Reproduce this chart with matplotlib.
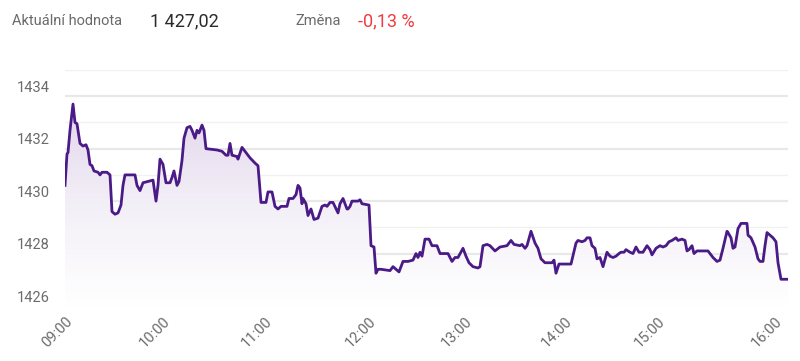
import matplotlib
matplotlib.use("Agg")
import matplotlib.pyplot as plt
import matplotlib.transforms as mtransforms
import numpy as np
from matplotlib.colors import LinearSegmentedColormap

plt.rcParams["font.family"] = ["Roboto", "DejaVu Sans"]

# session position (ordinal, one unit ~ one tick step) and index value
pos = [0, 2, 3, 5, 8, 10, 12, 15, 18, 21, 23, 25, 27, 29, 33, 35, 37, 42, 45,
       47, 50, 53, 56, 58, 60, 70, 72, 75, 78, 83, 88, 91, 93, 95, 98, 101,
       105, 107, 109, 112, 114, 117, 119, 122, 125, 127, 130, 132, 134, 137,
       139, 141, 152, 157, 161, 163, 165, 167, 172, 173, 177, 180, 183, 185,
       190, 193, 196, 201, 203, 207, 210, 213, 216, 222, 224, 228, 231, 233,
       235, 237, 238, 241, 243, 246, 249, 253, 257, 260, 262, 265, 268, 273,
       275, 278, 282, 283, 285, 287, 293, 295, 297, 304, 306, 309, 311,
       313, 316, 325, 328, 331, 334, 338, 343, 348, 351, 353, 355, 357, 360,
       364, 367, 372, 375, 383, 387, 390, 393, 398, 401, 404, 408, 413,
       415, 418, 422, 425, 430, 435, 442, 446, 449, 455, 457, 460, 462, 466,
       470, 473, 476, 480, 487, 489, 491, 494, 506, 511, 513, 517, 520, 522,
       525, 527, 530, 532, 535, 538, 542, 545, 548, 551, 554, 556, 559, 561,
       565, 568, 571, 574, 578, 582, 585, 587, 591, 595, 598, 601, 604, 607,
       611, 613, 617, 620, 622, 624, 627, 629, 632, 638, 643, 648, 652, 655,
       658, 662, 663, 666, 668, 670, 673, 676, 682, 683, 686, 690, 693, 695,
       698, 700, 702, 705, 708, 711, 713, 716, 723]
price = [1430.6, 1431.8, 1431.85, 1432.7, 1433.7, 1433.0, 1432.95, 1432.2,
         1432.1, 1432.15, 1431.95, 1431.4, 1431.35, 1431.15, 1431.1, 1431.0,
         1431.1, 1431.1, 1431.0, 1429.6, 1429.5, 1429.55, 1429.85, 1430.6,
         1431.0, 1431.0, 1430.6, 1430.4, 1430.7, 1430.75, 1430.8, 1430.0,
         1430.6, 1431.6, 1431.4, 1430.7, 1430.7, 1430.9, 1431.15, 1430.6,
         1430.75, 1431.55, 1432.4, 1432.8, 1432.85, 1432.7, 1432.4, 1432.7,
         1432.6, 1432.9, 1432.7, 1432.0, 1431.95, 1431.9, 1431.75, 1431.75,
         1432.2, 1431.75, 1431.7, 1431.6, 1432.05, 1431.9, 1431.75, 1431.65,
         1431.45, 1431.35, 1429.95, 1429.95, 1430.35, 1430.35, 1429.8, 1429.7,
         1429.8, 1429.8, 1430.1, 1430.1, 1430.25, 1430.6, 1430.5, 1429.9,
         1430.1, 1429.9, 1429.45, 1429.7, 1429.3, 1429.35, 1429.8, 1429.85,
         1429.8, 1429.95, 1429.95, 1429.55, 1429.9, 1430.1, 1429.7, 1429.7,
         1429.8, 1430.0, 1430.0, 1430.05, 1429.9, 1429.85, 1428.3, 1428.25,
         1427.25, 1427.4, 1427.4, 1427.35, 1427.5, 1427.4, 1427.3, 1427.7,
         1427.7, 1427.75, 1428.0, 1427.85, 1428.05, 1427.9, 1428.55, 1428.55,
         1428.3, 1428.3, 1428.0, 1428.0, 1427.7, 1427.85, 1427.85, 1428.2,
         1427.9, 1427.65, 1427.5, 1427.45, 1427.5, 1428.3, 1428.35, 1428.3,
         1428.1, 1428.25, 1428.3, 1428.5, 1428.35, 1428.3, 1428.35, 1428.2,
         1428.3, 1428.85, 1428.4, 1428.2, 1427.8, 1427.65, 1427.65, 1427.75,
         1427.25, 1427.6, 1427.6, 1428.4, 1428.5, 1428.45, 1428.5, 1428.6,
         1428.6, 1428.3, 1428.2, 1427.8, 1427.85, 1427.5, 1428.05, 1427.9,
         1427.85, 1427.9, 1428.0, 1428.05, 1428.05, 1428.15, 1428.05, 1428.0,
         1428.25, 1428.05, 1428.05, 1428.3, 1428.15, 1427.95, 1428.2, 1428.3,
         1428.25, 1428.3, 1428.45, 1428.5, 1428.6, 1428.5, 1428.55, 1428.5,
         1428.1, 1428.15, 1428.3, 1428.0, 1428.1, 1428.1, 1428.1, 1427.85,
         1427.7, 1427.75, 1428.2, 1428.85, 1428.8, 1428.6, 1428.2, 1428.25,
         1428.95, 1429.15, 1429.15, 1428.7, 1428.6, 1428.25, 1427.8, 1427.7,
         1427.7, 1428.3, 1428.8, 1428.7, 1428.6, 1428.45, 1427.65, 1427.02,
         1427.02]
hour_pos = [0, 98, 200, 304, 400, 500, 593, 710]
hour_labels = ["09:00", "10:00", "11:00", "12:00", "13:00", "14:00", "15:00", "16:00"]
y_ticks = [1426, 1428, 1430, 1432, 1434]

current_value = "1 427,02"
change_value = "-0,13 %"

assert len(pos) == len(price), (len(pos), len(price))

LINE = "#4a1a86"
MUTED = "#6b6b6b"

x = np.array(pos, dtype=float)
y = np.array(price, dtype=float)

fig = plt.figure(figsize=(8.0, 3.61), dpi=100)
ax = fig.add_axes([65 / 800, 1 - 306 / 361, 723 / 800, 236 / 361])
ymin, ymax = 1426, 1435
ax.set_xlim(0, 723)
ax.set_ylim(ymin, ymax)

# gridlines
for v in range(ymin, ymax + 1):
    ax.axhline(v, color="#e8e8e8" if v % 2 == 0 else "#f1f1f1",
               lw=1.6 if v % 2 == 0 else 1.0, zorder=0)

# gradient fill under the line
cmap = LinearSegmentedColormap.from_list("fade", ["#ffffff", "#f3eff7", "#e2d6ec"])
grad = np.linspace(0, 1, 256).reshape(-1, 1)
img = ax.imshow(grad, extent=[0, 723, ymin, y.max()], origin="lower",
                aspect="auto", cmap=cmap, zorder=1)
poly = ax.fill_between(x, y, ymin, color="none", lw=0)
img.set_clip_path(poly.get_paths()[0], transform=ax.transData)

ax.plot(x, y, color=LINE, lw=2.0, zorder=3, solid_joinstyle="round")

for s in ax.spines.values():
    s.set_visible(False)
ax.set_yticks([])
ax.set_xticks(hour_pos)
ax.tick_params(axis="x", length=0, pad=6)
ax.set_xticklabels(hour_labels, rotation=45, ha="right", rotation_mode="anchor",
                   color=MUTED, fontsize=10.5)

# y labels sit just above their gridlines
ytrans = mtransforms.offset_copy(ax.get_yaxis_transform(), fig=fig, x=0, y=1, units="points")
for v in y_ticks:
    ax.text(-0.021, v, str(v), transform=ytrans, ha="right", va="bottom",
            color=MUTED, fontsize=10.5)

# header
hy = 1 - 21 / 361
fig.text(12 / 800, hy, "Aktuální hodnota", color=MUTED, fontsize=10.5, va="center")
fig.text(150 / 800, hy, current_value, color="#2b2b2b", fontsize=13, va="center")
fig.text(295 / 800, hy, "Změna", color=MUTED, fontsize=10.5, va="center")
fig.text(358 / 800, hy, change_value, color="#ef3e42", fontsize=13, va="center")

fig.savefig("out.png", dpi=100, facecolor="white")
